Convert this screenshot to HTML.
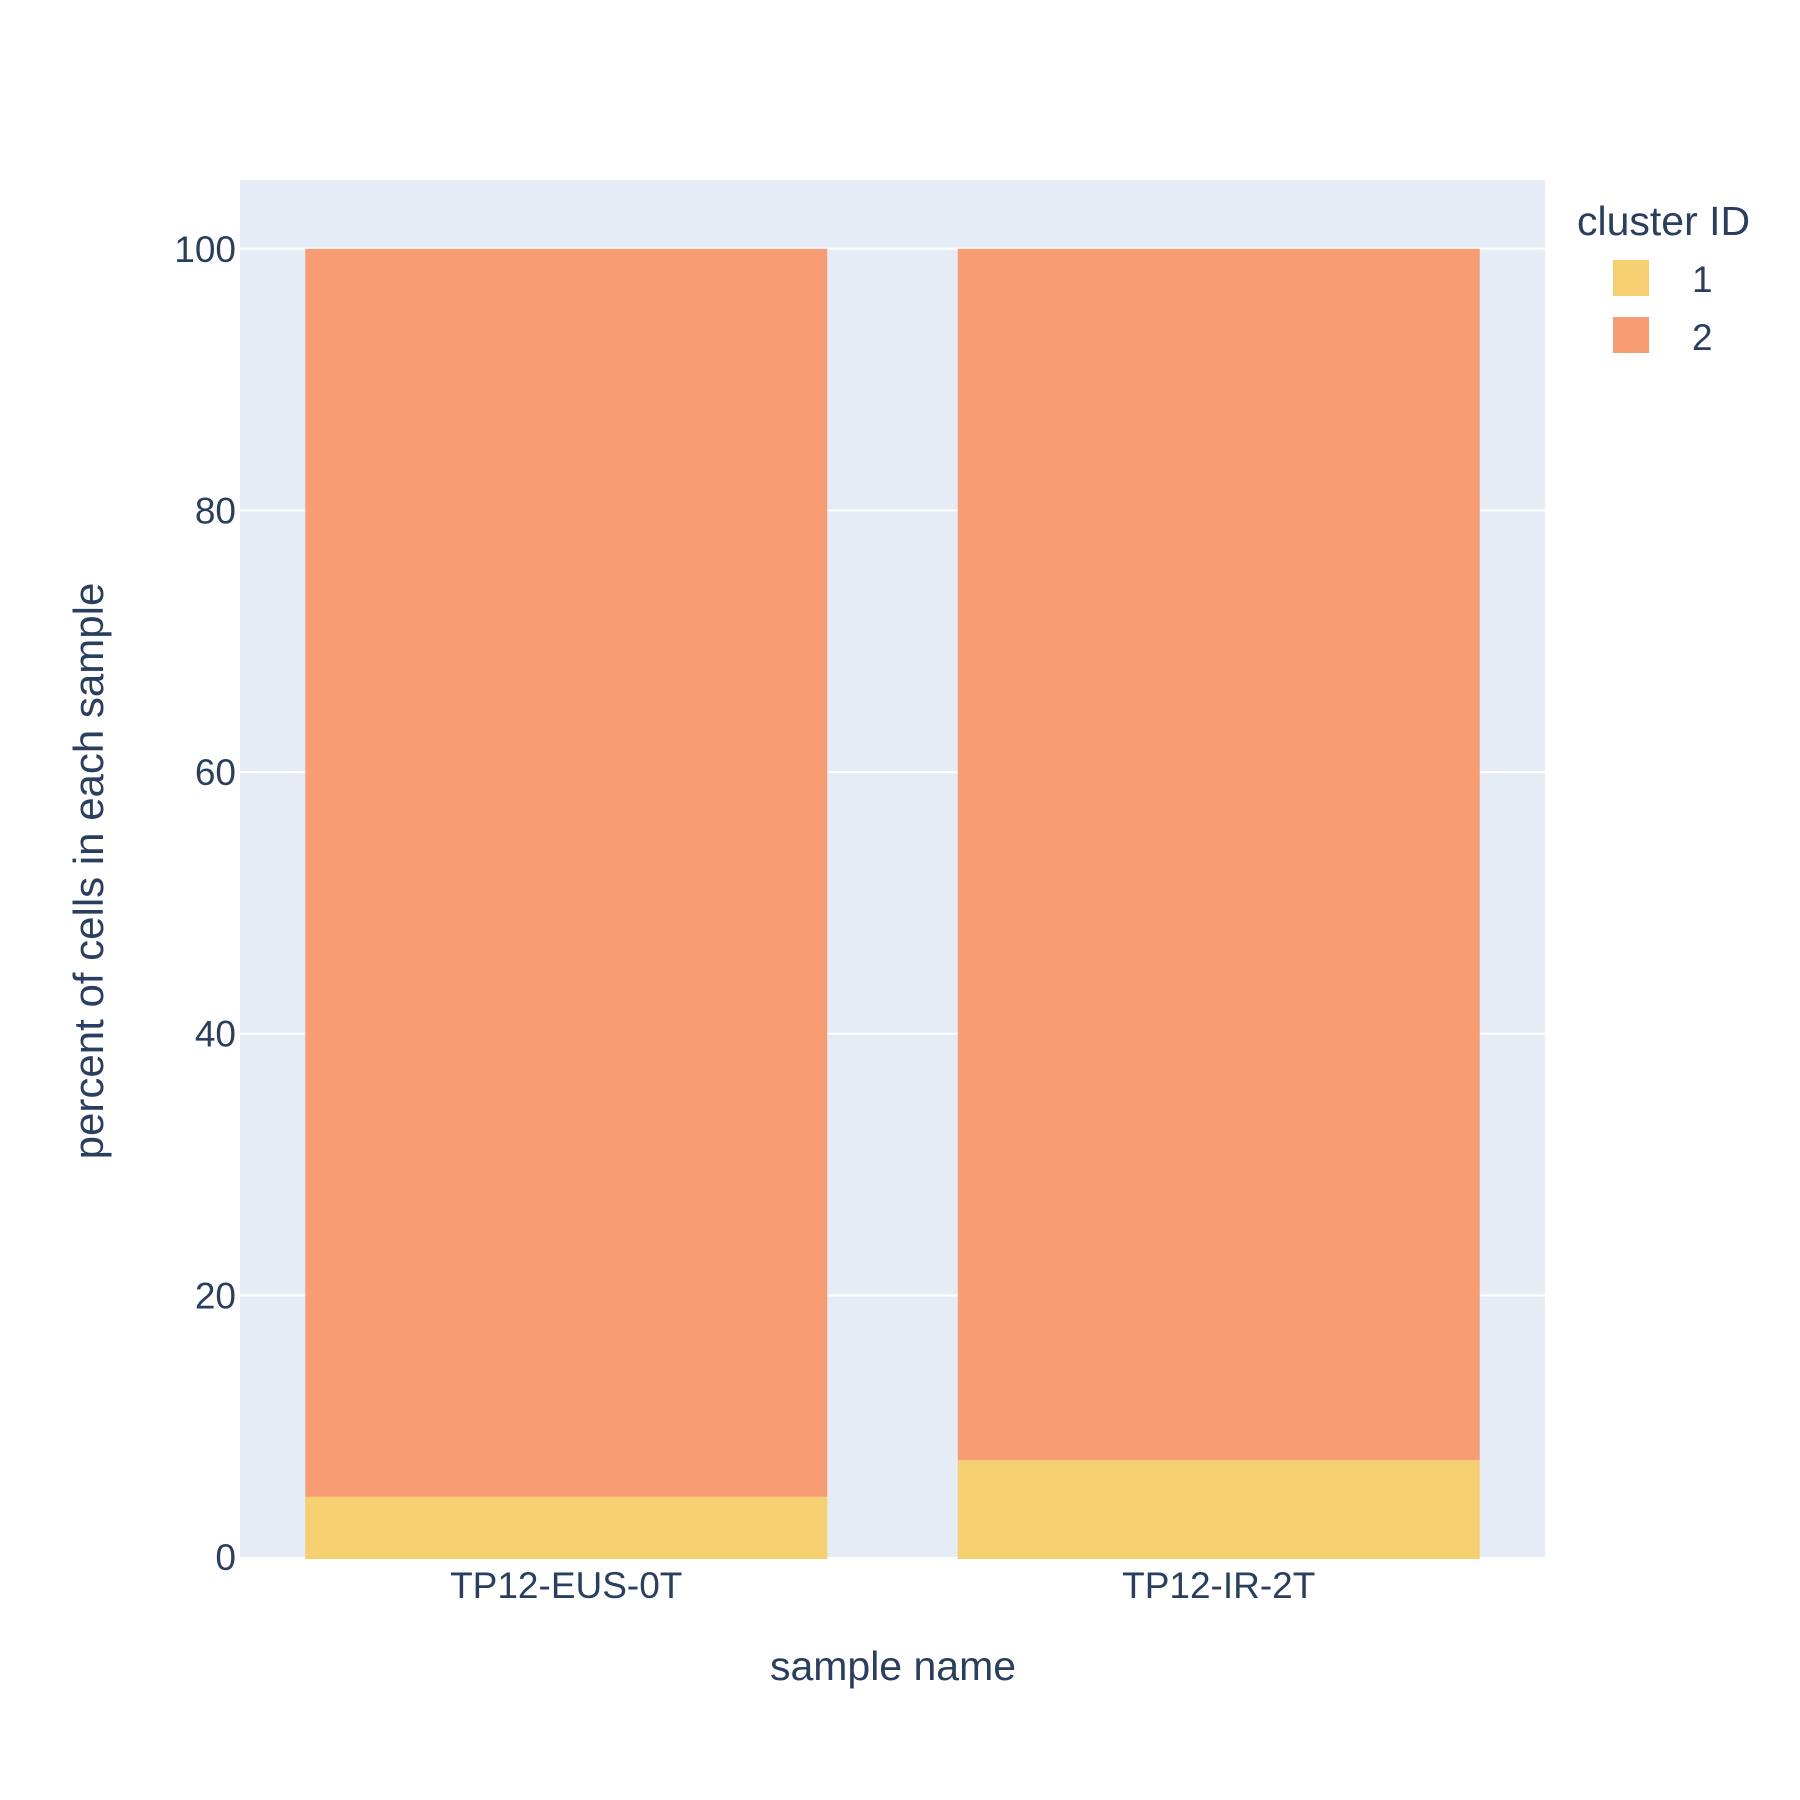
<!DOCTYPE html>
<html><head><meta charset="utf-8"><style>body{margin:0;background:#fff}svg{display:block;font-family:"Liberation Sans",Arial,sans-serif}</style></head>
<body>
<svg id="chart" width="1800" height="1800" viewBox="0 0 1800 1800">
<rect x="240" y="180" width="1305" height="1377" fill="#e5ecf6"/>
<g id="grid"></g><g id="bars"></g><g id="yticks"></g><g id="xticks"></g>
<text x="893" y="1680" font-size="41" fill="#2a3f5f" text-anchor="middle">sample name</text>
<text transform="translate(103,871) rotate(-90)" font-size="42" fill="#2a3f5f" text-anchor="middle">percent of cells in each sample</text>
<g>
<text x="1577" y="235" font-size="41" fill="#2a3f5f">cluster ID</text>
<g><rect x="1613" y="260" width="36" height="36" fill="#f6cf71"/><text x="1692" y="292" font-size="37" fill="#2a3f5f">1</text></g>
<g><rect x="1613" y="317" width="36" height="36" fill="#f89c74"/><text x="1692" y="350" font-size="37" fill="#2a3f5f">2</text></g>
</g>
</svg>
<script>
const categories = ["TP12-EUS-0T", "TP12-IR-2T"];
const cluster1 = [4.6, 7.4];
const cluster2 = [95.4, 92.6];
const yTicks = [0, 20, 40, 60, 80, 100];
const NS = "http://www.w3.org/2000/svg";
const L = 240, R = 1545, T = 180, B = 1557, YMAX = 105.26;
const y = v => B - v / YMAX * (B - T);
const band = (R - L) / categories.length;
const xc = i => L + band * (i + 0.5);
const bw = band * 0.8;
function mk(tag, attrs, parent) { const e = document.createElementNS(NS, tag); for (const k in attrs) e.setAttribute(k, attrs[k]); parent.appendChild(e); return e; }
const grid = document.getElementById('grid'), bars = document.getElementById('bars'), yt = document.getElementById('yticks'), xt = document.getElementById('xticks');
yTicks.forEach(t => {
  if (t > 0) { const g = mk('line', {x1: L, x2: R, y1: y(t), y2: y(t), stroke: '#fff', 'stroke-width': 2}, grid);
    
     }
  const tx = mk('text', {x: 236, y: y(t) + 13, 'font-size': 37, fill: '#2a3f5f', 'text-anchor': 'end'}, yt);
  tx.textContent = t;
  
  
});
categories.forEach((c, i) => {
  const x0 = xc(i) - bw / 2;
  const b1 = mk('rect', {x: x0, y: y(cluster1[i]), width: bw, height: y(0) - y(cluster1[i]) + 2, fill: '#f6cf71'}, bars);
  
  
  const top = cluster1[i] + cluster2[i];
  const b2 = mk('rect', {x: x0, y: y(top), width: bw, height: y(cluster1[i]) - y(top), fill: '#f89c74'}, bars);
  
  
  const tx = mk('text', {x: xc(i), y: 1598, 'font-size': 37, fill: '#2a3f5f', 'text-anchor': 'middle'}, xt);
  tx.textContent = c;
  
  
});
</script>
</body></html>
